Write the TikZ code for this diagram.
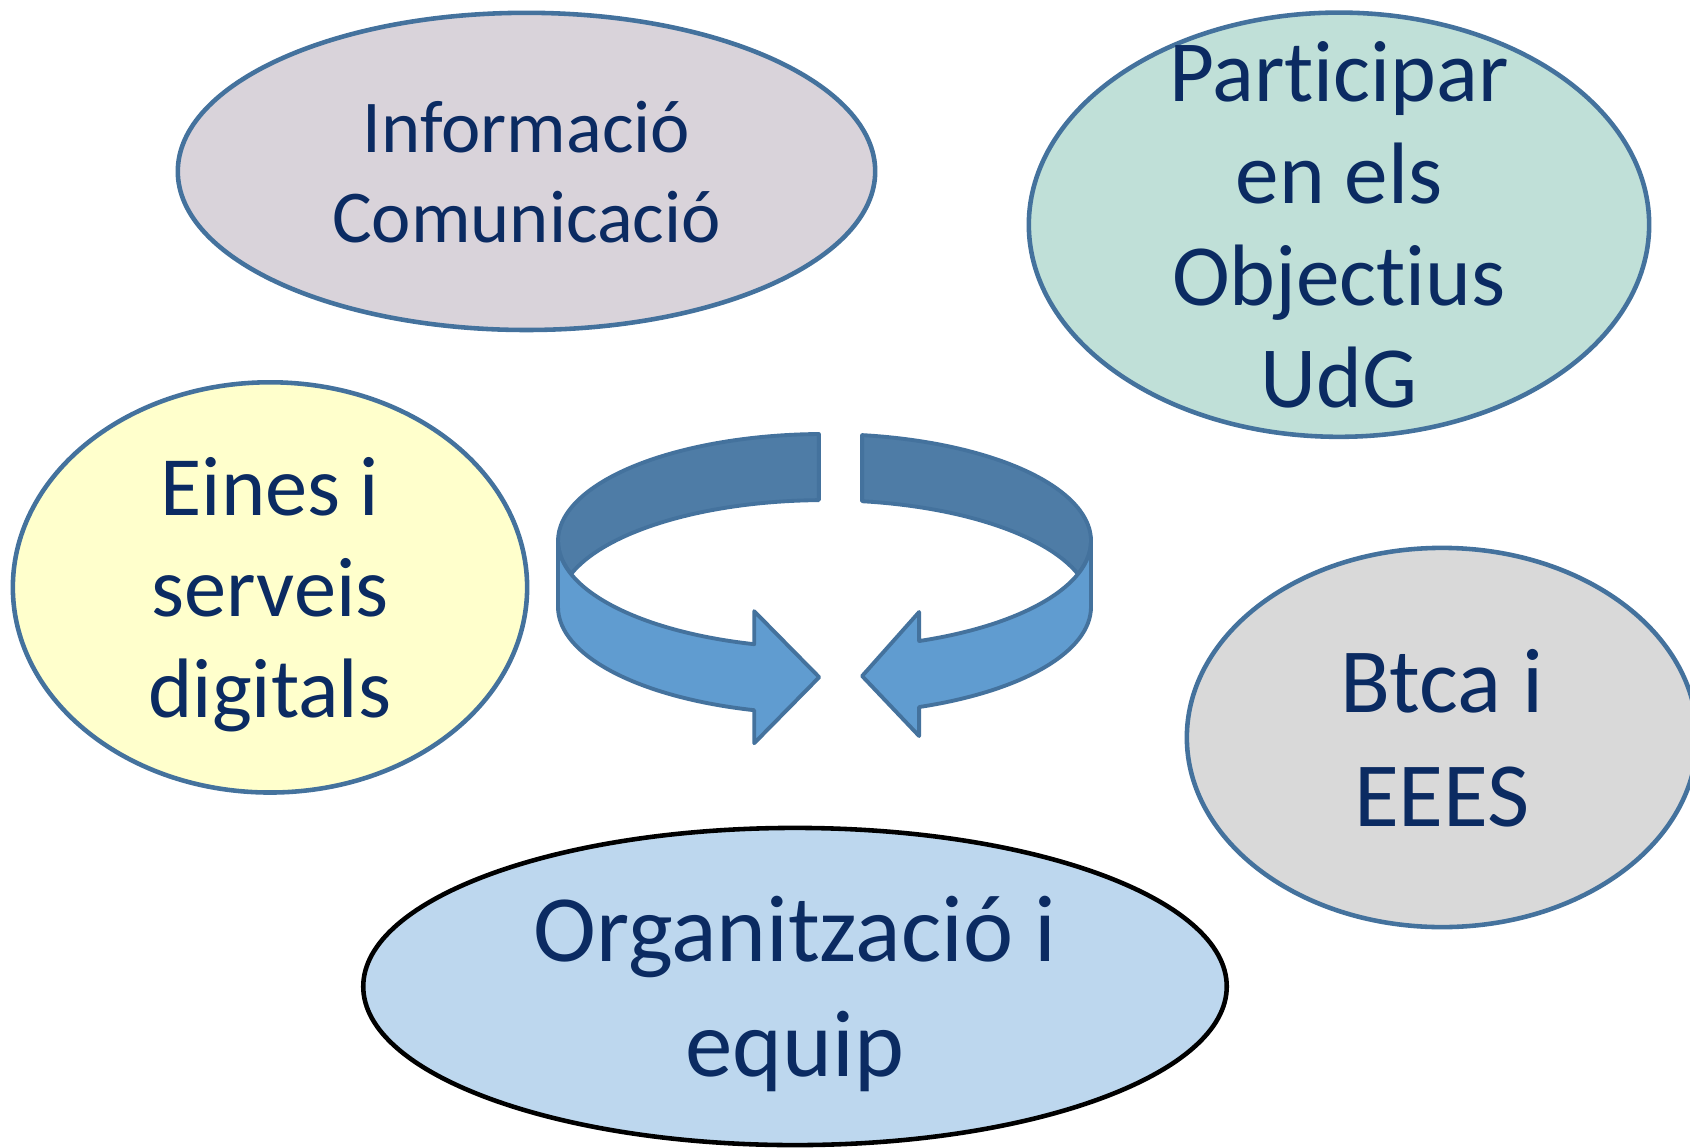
\documentclass[tikz,border=0pt]{standalone}
\usepackage{fontspec}
\setmainfont{Carlito}[Ligatures={NoCommon,NoContextual}]
\usepackage{tikz}
\usetikzlibrary{shapes.geometric}
\usepackage{xcolor}

\definecolor{rim}{HTML}{44729D}
\definecolor{ink}{HTML}{0B2B62}
\definecolor{lila}{HTML}{D9D3DA}
\definecolor{mint}{HTML}{C0E0D8}
\definecolor{cream}{HTML}{FFFFCC}
\definecolor{pebble}{HTML}{D9D9D9}
\definecolor{sky}{HTML}{BDD7EE}
\definecolor{ringback}{HTML}{4E7CA6}
\definecolor{ringfront}{HTML}{609CD0}

\begin{document}
\begin{tikzpicture}[x=0.01cm, y=0.01cm,
		bubble/.style={ellipse, draw=rim, line width=1.3pt, inner sep=0pt},
		words/.style={align=center, text=ink, inner sep=0pt, text depth=0pt},
		ring/.style={draw=rim, line width=1.1pt, line join=round}]
				% \draw [step=100, gray, very thin] (0, 0) grid (1690, -1148);
				\useasboundingbox (0, 0) rectangle (1690, -1148);
				\node [bubble, fill=lila, minimum width=6.97cm, minimum height=3.17cm] (info) at (526.5, -171.4) {};
				\node [bubble, fill=mint, minimum width=6.2cm, minimum height=4.24cm] (udg) at (1339, -224.7) {};
				\node [bubble, fill=cream, minimum width=5.14cm, minimum height=4.1cm] (eines) at (270, -587.4) {};
				\node [bubble, fill=pebble, minimum width=5.1cm, minimum height=3.79cm] (btca) at (1442, -737.5) {};
				\node [bubble, draw=black, fill=sky, minimum width=8.63cm, minimum height=3.17cm] (equip) at (795, -986.5) {};
				\node [words, font=\fontsize{21.2}{25.6}\selectfont] (infotxt) at (info) {Informació\\Comunicació};
				\node [words, font=\fontsize{24.8}{29}\selectfont] (udgtxt) at (udg) {Participar\\en els\\Objectius\\UdG};
				\node [words, font=\fontsize{24}{28.6}\selectfont] (einestxt) at (eines) {Eines i\\serveis\\digitals};
				\node [words, font=\fontsize{26.1}{32.4}\selectfont] (btcatxt) at (btca) {Btca i\\EEES};
				\node [words, font=\fontsize{27}{32.8}\selectfont] (equiptxt) at (equip) {Organització i\\equip};
				% ring, back half
				\filldraw [ring, fill=ringback] (818.9, -434) arc [start angle=91.2, end angle=198, x radius=266.5, y radius=107] arc [start angle=162, end angle=91.2, x radius=266.5, y radius=107] -- cycle;
				\filldraw [ring, fill=ringback] (862.1, -435.1) arc [start angle=81.9, end angle=-18, x radius=266.5, y radius=107] arc [start angle=18, end angle=81.9, x radius=266.5, y radius=107] -- cycle;
				% ring, front half with heads
				\filldraw [ring, fill=ringfront] (558, -541) -- (558, -607) arc [start angle=180, end angle=254.7, x radius=266.5, y radius=107] -- ++(0, -33) -- ++(65, 66) -- ++(-65, 66) -- ++(0, -33) arc [start angle=254.7, end angle=180, x radius=266.5, y radius=107] -- cycle;
				\filldraw [ring, fill=ringfront] (1091, -541) -- (1091, -607) arc [start angle=360, end angle=290.8, x radius=266.5, y radius=107] -- ++(0, -29) -- ++(-57, 60) -- ++(57, 64) -- ++(0, -29) arc [start angle=290.8, end angle=360, x radius=266.5, y radius=107] -- cycle;
			\end{tikzpicture}
\end{document}
